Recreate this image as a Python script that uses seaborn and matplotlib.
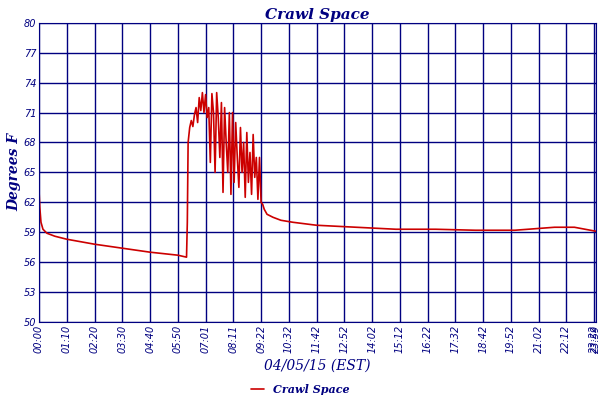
import matplotlib
matplotlib.use("Agg")
import matplotlib.pyplot as plt
import seaborn as sns
import pandas as pd

minutes = [0, 2, 5, 10, 20, 40, 70, 140, 210, 280, 350, 372, 374, 376, 380, 384, 388, 392, 396, 400, 404, 408, 412, 416,
           420, 424, 428, 432, 436, 440, 444, 448, 452, 456, 460, 464, 468, 472, 476, 480, 484, 488, 492, 496,
           500, 504, 508, 512, 516, 520, 524, 528, 532, 536, 540, 544, 548, 552, 556, 560, 564, 568, 575,
           590, 610, 640, 700, 800, 900, 1000, 1100, 1200, 1300, 1350, 1404]
temps = [63.2, 61.5, 60.0, 59.3, 58.9, 58.6, 58.3, 57.8, 57.4, 57.0, 56.7, 56.5, 60.0, 68.0, 69.5, 70.2, 69.6, 70.8, 71.5, 70.0, 72.5, 71.2, 73.0, 71.0,
           72.8, 70.5, 71.5, 66.0, 72.9, 71.0, 65.0, 73.0, 70.5, 66.5, 72.0, 63.0, 71.5, 68.0, 65.0, 71.0, 62.8, 71.0,
           64.0, 70.0, 66.5, 63.5, 69.5, 65.0, 68.0, 62.5, 69.0, 64.0, 67.0, 62.8, 68.8, 64.5, 66.5, 62.3, 66.5, 62.0,
           61.8, 61.3, 60.8, 60.5, 60.2, 60.0, 59.7, 59.5, 59.3, 59.3, 59.2, 59.2, 59.5, 59.5, 59.1]

tick_pos = list(range(0, 1401, 70)) + [1404]
tick_labels = ["00:00", "01:10", "02:20", "03:30", "04:40", "05:50", "07:01", "08:11", "09:22", "10:32", "11:42",
               "12:52", "14:02", "15:12", "16:22", "17:32", "18:42", "19:52", "21:02", "22:12", "23:22", "23:59"]
y_ticks = list(range(50, 81, 3))

sns.set_style("white")
navy = "#000080"
df = pd.DataFrame({"t": minutes, "v": temps})
fig, ax = plt.subplots(figsize=(6, 4), dpi=100)
fig.subplots_adjust(left=0.065, right=0.993, top=0.943, bottom=0.195)
sns.lineplot(data=df, x="t", y="v", color="#cc0000", lw=1.2, ax=ax, label="Crawl Space", legend=False)
ax.set_xlim(0, 1404)
ax.set_ylim(50, 80)
ax.set_xticks(tick_pos)
ax.set_xticklabels(tick_labels, rotation=90, fontsize=7, style="italic", color=navy)
ax.set_yticks(y_ticks)
ax.set_yticklabels([str(v) for v in y_ticks], fontsize=7, style="italic", color=navy)
ax.grid(True, color=navy, lw=1)
for s in ax.spines.values():
    s.set_color(navy)
ax.tick_params(length=0, pad=2)
ax.set_title("Crawl Space", fontsize=11, style="italic", fontweight="bold", family="serif", color=navy, pad=3)
ax.set_ylabel("Degrees F", fontsize=10, style="italic", fontweight="bold", family="serif", color=navy, labelpad=2)
ax.set_xlabel("04/05/15 (EST)", fontsize=10, style="italic", family="serif", color=navy, labelpad=4)
h, l = ax.get_legend_handles_labels()
leg = fig.legend(h, l, loc="center", bbox_to_anchor=(0.5, 0.027), frameon=False, handlelength=1.2,
                 borderpad=0.1, prop={"family": "serif", "style": "italic", "weight": "bold", "size": 8})
for t in leg.get_texts():
    t.set_color(navy)
fig.savefig("out.png")
